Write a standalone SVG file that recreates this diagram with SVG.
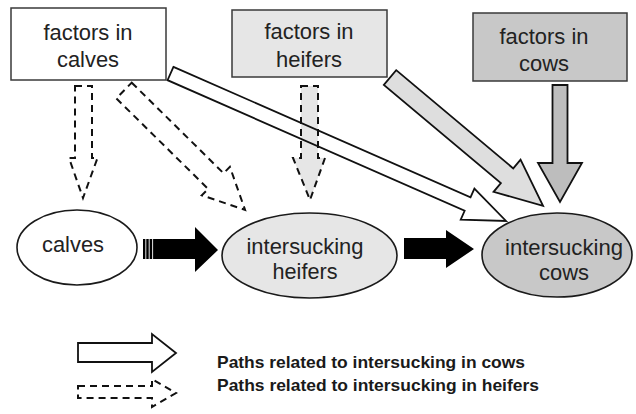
<svg xmlns="http://www.w3.org/2000/svg" width="636" height="414" viewBox="0 0 636 414">
<style>
.box{stroke:#3a3a3a;stroke-width:1.5}
.node{stroke:#1a1a1a;stroke-width:1.6}
.t{font-family:"Liberation Sans",Arial,sans-serif;font-size:21.5px;fill:#222;text-anchor:middle}
.lg{font-family:"Liberation Sans",Arial,sans-serif;font-size:16.5px;font-weight:bold;fill:#1a1a1a}
.solid{stroke:#111;stroke-width:1.8;stroke-linejoin:miter}
.dash{stroke:#111;stroke-width:2;stroke-dasharray:7 5;fill:none}
.blk{fill:#000}
</style>
<rect width="636" height="414" fill="#fff"/>

<g id="connectors">
  <path class="dash" d="M75,86 H92 V158 H97.5 L83,198 L69,158 H75 Z"/>
  <path class="dash" transform="translate(124,90.5) rotate(44.6)" d="M0,-11 H129 V-20 L170,0 L129,20 V11 H0 Z"/>
  <path class="dash" style="fill:#e6e6e6" d="M301,86 H318 V158 H325 L310,200 L293,158 H301 Z"/>
  <path class="solid" fill="none" transform="translate(170.5,73.5) rotate(23.73)" d="M0,-7.3 H324.5 V-17 L366.5,0 L324.5,17 V7.3 H0 Z"/>
  <path class="solid" fill="#dedede" transform="translate(390,77.5) rotate(40)" d="M0,-9.6 H152.8 V-21 L199.8,0 L152.8,21 V9.6 H0 Z"/>
  <path class="solid" fill="#bdbdbd" d="M552.5,85 H567.5 V163 H582 L560,202 L538,163 H552.5 Z"/>
  <path class="blk" d="M143,239 H195 V227 L218,250 L195,272 V259 H143 Z"/>
  <g stroke="#fff" stroke-width="0.9">
    <line x1="145.8" y1="238" x2="145.8" y2="260"/>
    <line x1="149.2" y1="238" x2="149.2" y2="260"/>
    <line x1="152.6" y1="238" x2="152.6" y2="260"/>
  </g>
  <path class="blk" d="M404,238 H446 V230 L474,249 L446,268 V259 H404 Z"/>
</g>

<g id="factors-calves">
  <rect class="box" x="11" y="8" width="155" height="72" fill="#fff"/>
  <text class="t" x="88" y="40" textLength="89" lengthAdjust="spacingAndGlyphs">factors in</text>
  <text class="t" x="88" y="67" textLength="62" lengthAdjust="spacingAndGlyphs">calves</text>
</g>
<g id="factors-heifers">
  <rect class="box" x="232" y="10" width="155" height="67" fill="#e6e6e6"/>
  <text class="t" x="309" y="39" textLength="89" lengthAdjust="spacingAndGlyphs">factors in</text>
  <text class="t" x="309" y="67" textLength="66" lengthAdjust="spacingAndGlyphs">heifers</text>
</g>
<g id="factors-cows">
  <rect class="box" x="473" y="13" width="154" height="68" fill="#c8c8c8"/>
  <text class="t" x="544" y="44" textLength="89" lengthAdjust="spacingAndGlyphs">factors in</text>
  <text class="t" x="544" y="71" textLength="50" lengthAdjust="spacingAndGlyphs">cows</text>
</g>

<g id="calves">
  <ellipse class="node" cx="77" cy="247.5" rx="60" ry="37.5" fill="#fff"/>
  <text class="t" x="73" y="252" textLength="62" lengthAdjust="spacingAndGlyphs">calves</text>
</g>
<g id="intersucking-heifers">
  <ellipse class="node" cx="309.5" cy="255.5" rx="87.5" ry="42.5" fill="#e6e6e6"/>
  <text class="t" x="305" y="254" textLength="117" lengthAdjust="spacingAndGlyphs">intersucking</text>
  <text class="t" x="305" y="279" textLength="65" lengthAdjust="spacingAndGlyphs">heifers</text>
</g>
<g id="intersucking-cows">
  <ellipse class="node" cx="557" cy="255" rx="75" ry="42" fill="#c8c8c8"/>
  <text class="t" x="564" y="255" textLength="118" lengthAdjust="spacingAndGlyphs">intersucking</text>
  <text class="t" x="564" y="280" textLength="50" lengthAdjust="spacingAndGlyphs">cows</text>
</g>

<g id="legend">
  <path class="solid" fill="#fff" d="M78,343 H152 V334 L176,353 L152,372 V362 H78 Z"/>
  <text class="lg" x="217" y="368" textLength="308" lengthAdjust="spacingAndGlyphs">Paths related to intersucking in cows</text>
  <path class="dash" d="M78,386 H152 V379 L176,393 L152,407 V398 H78 Z"/>
  <text class="lg" x="217" y="391" textLength="322" lengthAdjust="spacingAndGlyphs">Paths related to intersucking in heifers</text>
</g>
</svg>
